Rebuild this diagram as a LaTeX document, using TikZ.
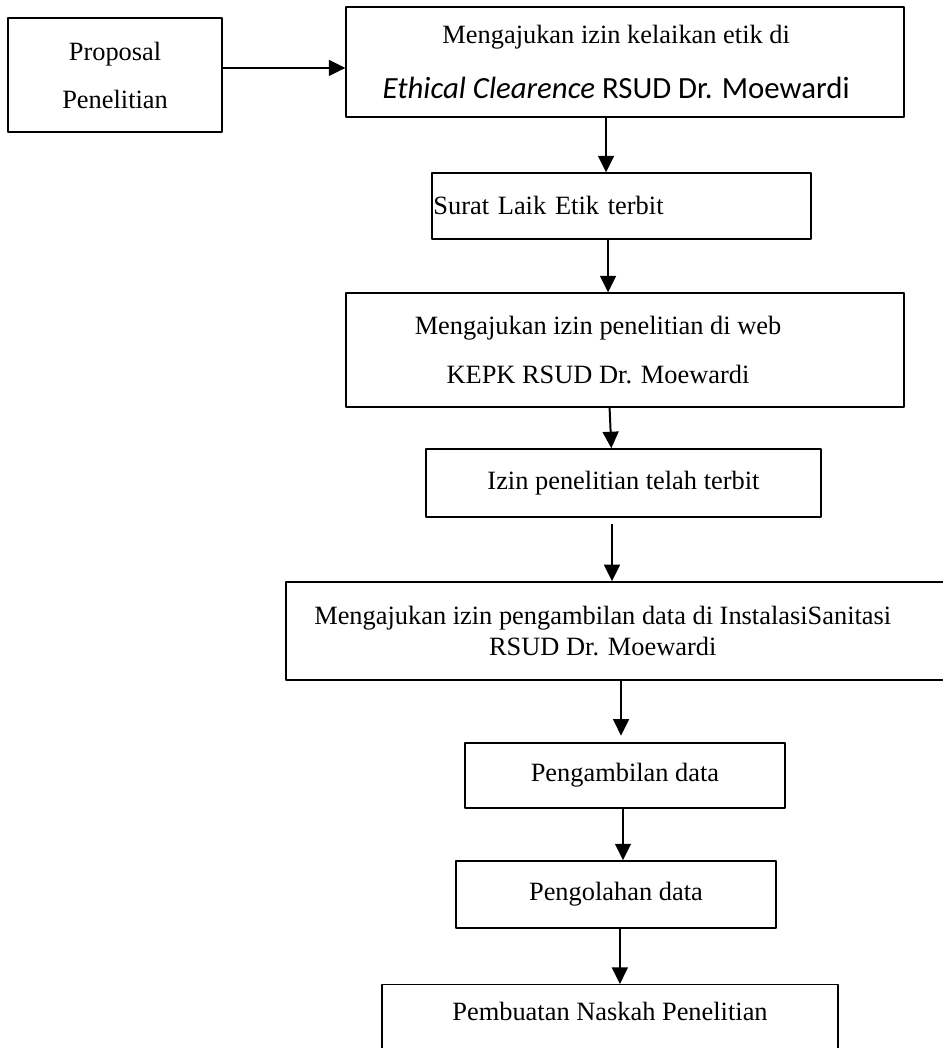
\documentclass[tikz,border=0pt]{standalone}
\usepackage{fontspec}
\setmainfont{Liberation Serif}
\newfontfamily\calibri{Carlito}
\usetikzlibrary{arrows.meta}

\begin{document}
\begin{tikzpicture}[
	x=1pt,
	y=-1pt,
	line join=round,
	font=\fontsize{12}{14}\selectfont,
	box/.style={draw=black, line width=0.6pt, inner sep=2pt, align=center},
	arr/.style={line width=0.9pt, -{Triangle[length=7.5pt,width=7.2pt]}}
	]
	\useasboundingbox (0,0) rectangle (428.6,476.4);

	% Top row
	\node[box, minimum width=97.3pt, minimum height=51.8pt,
		font=\fontsize{12}{21.8}\selectfont] (prop) at (52.3,34.1) {Proposal\\Penelitian};
	\node[box, minimum width=253.6pt, minimum height=50pt,
		font=\fontsize{12}{25}\selectfont] (etik) at (284.1,28.2)
		{Mengajukan izin kelaikan etik di\hspace*{8pt}\\{\calibri\fontsize{14}{16}\selectfont\textit{Ethical Clearence} RSUD Dr. Moewardi}\hspace*{8pt}};

	% Permits
	\node[box, text width=171pt, inner xsep=0.6pt, align=left, minimum height=30pt] (laik) at (282.5,93.6) {Surat Laik Etik terbit};
	\node[box, minimum width=253.6pt, minimum height=51.8pt,
		font=\fontsize{12}{22.3}\selectfont] (web) at (284.1,159.1)
		{Mengajukan izin penelitian di web\hspace*{24.5pt}\\KEPK RSUD Dr. Moewardi\hspace*{24.5pt}};
	\node[box, minimum width=179.6pt, minimum height=30.9pt] (izin) at (283.4,219.5) {Izin penelitian telah terbit};
	\node[box, minimum width=306.4pt, minimum height=44.6pt] (instalasi) at (283.2,286.8)
		{Mengajukan izin pengambilan data di InstalasiSanitasi\hspace*{18.4pt}\\RSUD Dr. Moewardi\hspace*{18.4pt}};

	% Data
	\node[box, minimum width=145.4pt, minimum height=29.6pt] (ambil) at (284.1,352.5) {Pengambilan data};
	\node[box, minimum width=145.4pt, minimum height=30.5pt] (olah) at (280,406.6) {Pengolahan data};
	\node[box, minimum width=207.3pt, anchor=north, inner ysep=8pt, text depth=30pt] (naskah) at (277.3,447.3) {Pembuatan Naskah Penelitian};

	% Arrows
	\draw[arr] ([yshift=3.2pt]prop.east) -- ([yshift=3.2pt]prop.east -| etik.west);
	\draw[arr] ([xshift=-8.6pt]etik.south) -- ([xshift=-8.6pt]etik.south |- laik.north);
	\draw[arr] ([xshift=-6.1pt]laik.south) -- ([xshift=-6.1pt]laik.south |- web.north);
	\draw[arr] ([xshift=-7pt]web.south) -- ([xshift=-5.5pt]izin.north);
	\draw[arr, shorten <=3pt] ([xshift=-5.2pt]izin.south) -- ([xshift=-5.2pt]izin.south |- instalasi.north);
	\draw[arr, shorten >=3pt] ([xshift=-1.8pt]ambil.north |- instalasi.south) -- ([xshift=-1.8pt]ambil.north);
	\draw[arr] ([xshift=-0.9pt]ambil.south) -- ([xshift=-0.9pt]ambil.south |- olah.north);
	\draw[arr] ([xshift=1.8pt]olah.south) -- ([xshift=1.8pt]olah.south |- naskah.north);
\end{tikzpicture}
\end{document}
